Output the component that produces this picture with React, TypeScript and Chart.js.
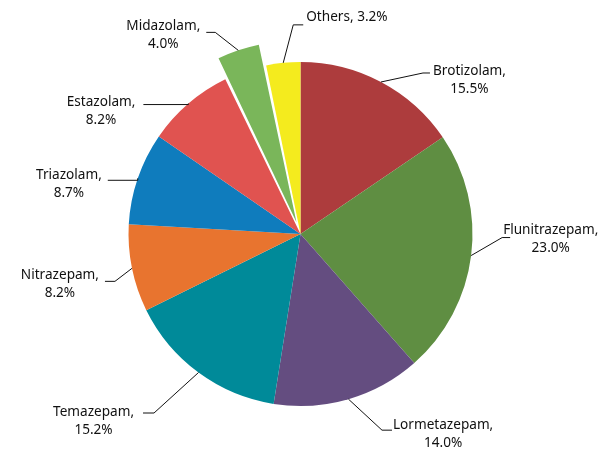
import React, { useEffect, useRef } from "react";
import { Chart, registerables } from "chart.js";

Chart.register(...registerables);

const categories = [
  "Brotizolam",
  "Flunitrazepam",
  "Lormetazepam",
  "Temazepam",
  "Nitrazepam",
  "Triazolam",
  "Estazolam",
  "Midazolam",
  "Others",
];
const shares = [15.5, 23.0, 14.0, 15.2, 8.2, 8.7, 8.2, 4.0, 3.2];
const sliceColors = [
  "#AD3C3D",
  "#5F8E42",
  "#644D80",
  "#008A99",
  "#E8742F",
  "#0F7CBD",
  "#E05350",
  "#7AB65A",
  "#F4EB1E",
];
const sliceOffsets = [0, 0, 0, 0, 0, 0, 0, 50, 0];
const singleLineLabels = [false, false, false, false, false, false, false, false, true];

// Label layout: elbow offset from slice edge (ex, ey), horizontal tail h (sign = side),
// gap from tail end to text (tx), first line y relative to tail (ty)
const labelEx = [42, 31, 33.5, -44.5, -17, 0, 0, -23, 10];
const labelEy = [-9, -18, 31, 40.5, 13, 2, 1, -18, -38];
const labelH = [7, 8, 10, -11, -10, -30, -45, -9, 10];
const labelTx = [3, -7, 1, 9, 6, 6, 8, 6, 3];
const labelTy = [-2, -7, -5, -1, -6, -5, -2, -6, -8];

const FONT = '13.6px "Noto Sans", "DejaVu Sans", sans-serif';

const labelPlugin = {
  id: "outsideLabels",
  afterDatasetsDraw(chart: any) {
    const ctx = chart.ctx;
    const meta = chart.getDatasetMeta(0);
    ctx.save();
    ctx.font = FONT;
    ctx.fillStyle = "#111";
    ctx.strokeStyle = "#111";
    ctx.lineWidth = 1;
    ctx.textBaseline = "middle";
    meta.data.forEach((arc: any, i: number) => {
      const { x, y, outerRadius, startAngle, endAngle } = arc.getProps(
        ["x", "y", "outerRadius", "startAngle", "endAngle"],
        true
      );
      const mid = (startAngle + endAngle) / 2;
      const circ = endAngle - startAngle;
      const off = (sliceOffsets[i] || 0) / 4;
      const eff = off + off * (1 - Math.sin(Math.min(Math.PI, circ)));
      const r = outerRadius + eff;
      const px = x + Math.cos(mid) * r;
      const py = y + Math.sin(mid) * r;
      const bx = px + labelEx[i];
      const by = py + labelEy[i];
      const hx = bx + labelH[i];
      ctx.beginPath();
      ctx.moveTo(px, py);
      ctx.lineTo(bx, by);
      ctx.lineTo(hx, by);
      ctx.stroke();
      const side = labelH[i] >= 0 ? 1 : -1;
      const edgeX = hx + side * labelTx[i];
      const pct = shares[i].toFixed(1) + "%";
      const ly = by + labelTy[i];
      if (singleLineLabels[i]) {
        const t = categories[i] + ", " + pct;
        ctx.textAlign = side > 0 ? "left" : "right";
        ctx.fillText(t, edgeX, ly);
      } else {
        const l1 = categories[i] + ",";
        const w = ctx.measureText(l1).width;
        const cx = edgeX + side * (w / 2);
        ctx.textAlign = "center";
        ctx.fillText(l1, cx, ly);
        ctx.fillText(pct, cx, ly + 18);
      }
    });
    ctx.restore();
  },
};

export default function App() {
  const canvasRef = useRef<HTMLCanvasElement>(null);
  useEffect(() => {
    if (!canvasRef.current) return;
    const chart = new Chart(canvasRef.current, {
      type: "pie",
      data: {
        labels: categories,
        datasets: [
          {
            data: shares,
            backgroundColor: sliceColors,
            borderWidth: 0,
            offset: sliceOffsets,
            radius: 172,
          } as any,
        ],
      },
      options: {
        animation: false,
        responsive: true,
        maintainAspectRatio: false,
        layout: { padding: { left: 0, right: 15, top: 6, bottom: 0 } },
        plugins: {
          legend: { display: false },
          tooltip: { enabled: false },
        },
        events: [],
      },
      plugins: [labelPlugin],
    });
    return () => chart.destroy();
  }, []);
  return (
    <div style={{ width: 600, height: 446, position: "relative" }}>
      <canvas ref={canvasRef} />
    </div>
  );
}
